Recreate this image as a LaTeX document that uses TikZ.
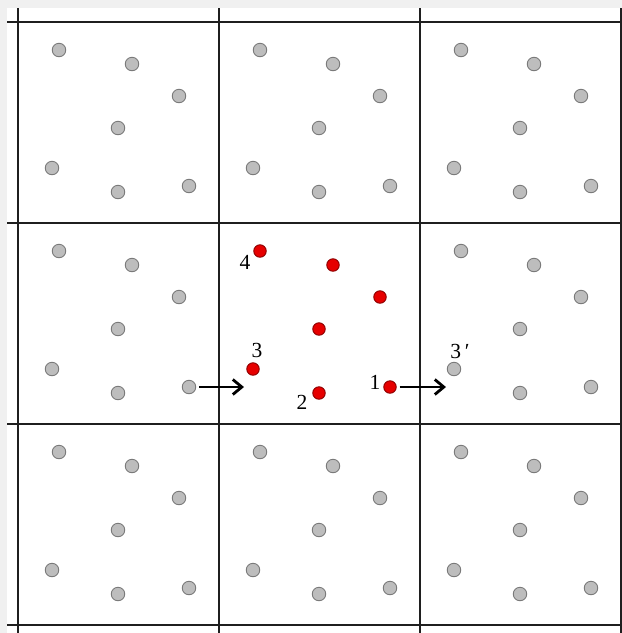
\documentclass[tikz,border=0pt]{standalone}
\usepackage{fontspec}
\setmainfont{Liberation Serif}
\usepackage{xcolor}
\definecolor{dotgray}{HTML}{BDBDBD}
\definecolor{dotrim} {HTML}{7A7A7A}
\definecolor{hot}    {HTML}{E60000}
\definecolor{hotrim} {HTML}{8C0000}
\usetikzlibrary{arrows.meta, positioning, calc}

\begin{document}
\begin{tikzpicture}[x=1pt, y=-1pt,
    atom/.style={circle, draw=dotrim, fill=dotgray, line width=0.9pt,
                 minimum size=13.5pt, inner sep=0pt},
    tagged/.style={atom, draw=hotrim, fill=hot, minimum size=12.5pt},
    lbl/.style={font=\fontsize{21.5}{21.5}\selectfont, inner sep=0pt},
    grid/.style={line width=1.9pt, black!88},
    move/.style={line width=1.4pt, shorten <=3pt,
                 -{Straight Barb[length=9pt, width=15pt, line width=2.8pt]}}]

    \useasboundingbox (0,0) rectangle (622,633);
    \fill[black!6] (0,0) rectangle (622,633);
    \fill[white] (7,8) rectangle (622,633);

    % --- periodic cell boundaries
    \foreach \k in {0,...,3} {
        \draw[grid] (7,{22+201*\k}) -- (622,{22+201*\k});
        \draw[grid] ({18+201*\k},8) -- ({18+201*\k},633);
    }

    % --- image atoms in the eight neighbouring cells
    \foreach \i in {0,1,2} {
        \foreach \j in {0,1,2} {
            \ifnum\i\j=11 \else
            \foreach \k/\dx/\dy in {1/171/164, 2/100/170, 3/34/146, 4/41/28,
                                    5/114/42, 6/161/74, 7/100/106}
                \node[atom] (p\i\j-\k) at ({18+201*\i+\dx},{22+201*\j+\dy}) {};
            \fi
        }
    }

    % --- atoms of the central box
    \foreach \k/\dx/\dy in {1/171/164, 2/100/170, 3/34/146, 4/41/28,
                            5/114/42, 6/161/74, 7/100/106}
        \node[tagged] (r\k) at ({219+\dx},{223+\dy}) {};

    \node[lbl] (t4) at (245,262) {4};
    \node[lbl] (t3) at (257,350) {3};
    \node[lbl] (t2) at (302,402) {2};
    \node[lbl] (t1) at (375,382) {1};
    \node[lbl] (t3p) at (460,351) {3\,′};

    % --- atom 1 leaves through the right face, its image 3 enters on the left
    \coordinate (enter) at (244,387);
    \coordinate (leave) at (446,387);
    \draw[move] (p01-1) -- (enter);
    \draw[move] (r1) -- (leave);
\end{tikzpicture}
\end{document}
